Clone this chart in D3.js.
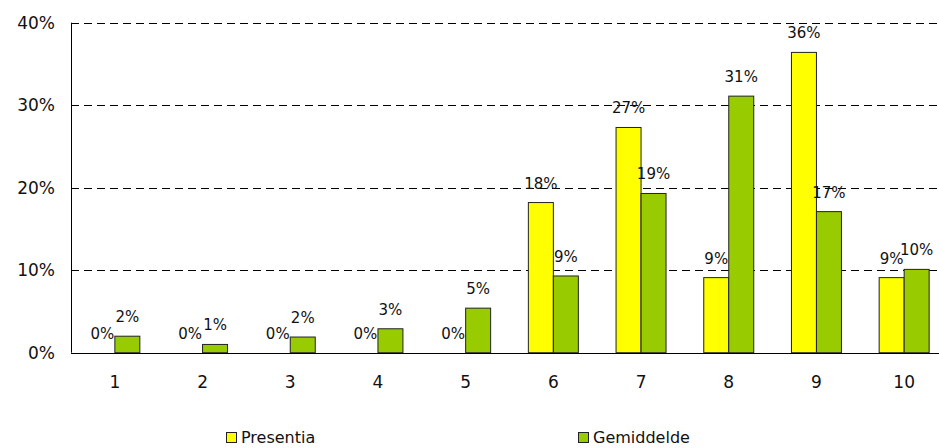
<!DOCTYPE html>
<html>
<head>
<meta charset="utf-8">
<script src="https://cdn.jsdelivr.net/npm/d3@7"></script>
<style>
  body { margin: 0; background: #fff; }
  svg { display: block; font-family: "DejaVu Sans", Verdana, sans-serif; }
</style>
</head>
<body>
<div class="chart"></div>
<script>
// chart data
var categories = ["1", "2", "3", "4", "5", "6", "7", "8", "9", "10"];
var seriesNames = ["Presentia", "Gemiddelde"];
var presentia = [0, 0, 0, 0, 0, 18.2, 27.3, 9.1, 36.4, 9.1];
var gemiddelde = [2.0, 1.0, 1.9, 2.9, 5.4, 9.3, 19.3, 31.1, 17.1, 10.1];
var yTicks = [0, 10, 20, 30, 40];

var colors = { "Presentia": "#ffff00", "Gemiddelde": "#99cc00" };

var svgWidth = 939;
var svgHeight = 448;

var margin = { top: 22.7, left: 71, bottom: 95.3 };
var plotBottom = svgHeight - margin.bottom;

var svg = d3.select(".chart")
  .append("svg")
  .attr("width", svgWidth)
  .attr("height", svgHeight);

// scales
var x0 = d3.scaleBand()
  .domain(categories)
  .range([margin.left, 948])
  .paddingInner(0.43)
  .paddingOuter(0.215);

var x1 = d3.scaleBand()
  .domain(seriesNames)
  .range([0, x0.bandwidth()]);

var y = d3.scaleLinear()
  .domain([0, 40])
  .range([plotBottom, margin.top]);

// dashed gridlines
svg.append("g")
  .selectAll("line")
  .data(yTicks.slice(1))
  .enter()
  .append("line")
  .attr("x1", margin.left)
  .attr("x2", svgWidth)
  .attr("y1", d => Math.round(y(d)) + 0.5)
  .attr("y2", d => Math.round(y(d)) + 0.5)
  .attr("stroke", "#000")
  .attr("stroke-dasharray", "8,5");

// y tick labels
svg.append("g")
  .selectAll("text")
  .data(yTicks)
  .enter()
  .append("text")
  .attr("x", 55)
  .attr("y", d => y(d))
  .attr("dy", "0.36em")
  .attr("text-anchor", "end")
  .attr("font-size", "17px")
  .attr("fill", "#111")
  .text(d => d + "%");

// bars
var rows = categories.map((c, i) => ({
  cat: c,
  values: [
    { name: "Presentia", value: presentia[i] },
    { name: "Gemiddelde", value: gemiddelde[i] }
  ]
}));

var groups = svg.append("g")
  .selectAll("g")
  .data(rows)
  .enter()
  .append("g")
  .attr("transform", d => `translate(${x0(d.cat)}, 0)`);

groups.selectAll("rect")
  .data(d => d.values)
  .enter()
  .append("rect")
  .attr("x", d => x1(d.name))
  .attr("y", d => y(d.value))
  .attr("width", x1.bandwidth())
  .attr("height", d => plotBottom - y(d.value))
  .attr("fill", d => colors[d.name])
  .attr("stroke", "#222")
  .attr("stroke-width", 1);

// value labels
groups.selectAll("text")
  .data(d => d.values)
  .enter()
  .append("text")
  .attr("x", d => x1(d.name) + x1.bandwidth() / 2)
  .attr("y", d => y(d.value) - 14)
  .attr("text-anchor", "middle")
  .attr("font-size", "15px")
  .attr("fill", "#111")
  .text(d => Math.round(d.value) + "%");

// axes lines
svg.append("line")
  .attr("x1", margin.left + 0.5)
  .attr("x2", margin.left + 0.5)
  .attr("y1", margin.top)
  .attr("y2", plotBottom)
  .attr("stroke", "#000");

svg.append("line")
  .attr("x1", margin.left)
  .attr("x2", svgWidth)
  .attr("y1", Math.round(plotBottom) + 0.5)
  .attr("y2", Math.round(plotBottom) + 0.5)
  .attr("stroke", "#000");

// x tick labels
svg.append("g")
  .selectAll("text")
  .data(categories)
  .enter()
  .append("text")
  .attr("x", d => x0(d) + x0.bandwidth() / 2)
  .attr("y", 382)
  .attr("dy", "0.36em")
  .attr("text-anchor", "middle")
  .attr("font-size", "17px")
  .attr("fill", "#111")
  .text(d => d);

// legend
var legendX = [226, 578];
var legend = svg.append("g")
  .selectAll("g")
  .data(seriesNames)
  .enter()
  .append("g")
  .attr("transform", (d, i) => `translate(${legendX[i]}, 432)`);

legend.append("rect")
  .attr("x", 0.5)
  .attr("y", 0.5)
  .attr("width", 10)
  .attr("height", 10)
  .attr("fill", d => colors[d])
  .attr("stroke", "#222");

legend.append("text")
  .attr("x", 15)
  .attr("y", 10.5)
  .attr("font-size", "16px")
  .attr("fill", "#111")
  .text(d => d);
</script>
</body>
</html>
